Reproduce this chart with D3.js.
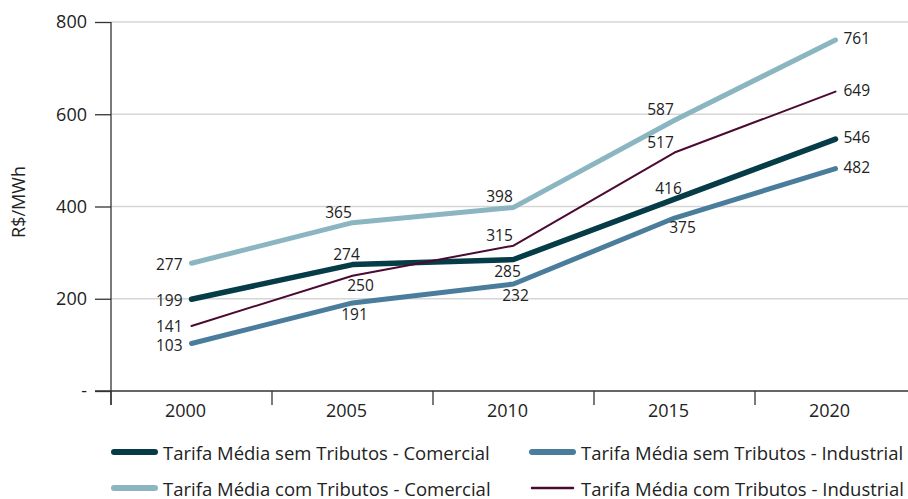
<!DOCTYPE html>
<html>
<head>
<meta charset="utf-8">
<script src="https://cdn.jsdelivr.net/npm/d3@7"></script>
<style>
	body { margin: 0; background: #fff; }
	svg { display: block; font-family: "Open Sans", sans-serif; }
</style>
</head>
<body>
<div id="chart"></div>
<script>
// data
var years = [2000, 2005, 2010, 2015, 2020];
var yTicks = [0, 200, 400, 600, 800];
var seriesNames = [
	"Tarifa Média sem Tributos - Comercial",
	"Tarifa Média sem Tributos - Industrial",
	"Tarifa Média com Tributos - Comercial",
	"Tarifa Média com Tributos - Industrial"
];
var semComercial = [199, 274, 285, 416, 546];
var semIndustrial = [103, 191, 232, 375, 482];
var comComercial = [277, 365, 398, 587, 761];
var comIndustrial = [141, 250, 315, 517, 649];

// styling per series
var colors = ["#063c47", "#4a7d9b", "#8ab5c1", "#4b0a32"];
var widths = [5.5, 5, 5, 2];
// where the value label sits at each point
var labelPos = [
	["left", "above", "belowLeft", "above", "right"],
	["leftLow", "below", "below", "belowRight", "right"],
	["left", "aboveLeft", "aboveLeft", "aboveLeft", "right"],
	["leftHigh", "belowRight", "aboveLeft", "aboveLeft", "right"]
];

var allSeries = [semComercial, semIndustrial, comComercial, comIndustrial];

var W = 908, H = 499;
var svg = d3.select("#chart").append("svg")
	.attr("width", W)
	.attr("height", H);

var x = d3.scaleBand().domain(years).range([111, 916]);
var y = d3.scaleLinear().domain([0, 800]).range([391, 22]);

// grid lines
svg.append("g")
	.selectAll("line")
	.data(yTicks.slice(1))
	.enter()
	.append("line")
		.attr("x1", 111)
		.attr("x2", W)
		.attr("y1", function(d) { return y(d); })
		.attr("y2", function(d) { return y(d); })
		.attr("stroke", "#d6d6d6")
		.attr("stroke-width", 1.3);

// y axis
var yAxis = svg.append("g")
	.attr("transform", "translate(111,0)")
	.call(d3.axisLeft(y).tickValues(yTicks).tickSize(16).tickPadding(8)
		.tickFormat(function(d) { return d == 0 ? "-" : d; }));
yAxis.select(".domain").remove();
yAxis.selectAll(".tick line").attr("stroke", "#333").attr("stroke-width", 1.3);
yAxis.selectAll("text").attr("font-size", 18).attr("fill", "#222").attr("font-family", "Open Sans");
svg.append("line")
	.attr("x1", 111).attr("x2", 111)
	.attr("y1", 22).attr("y2", 405)
	.attr("stroke", "#333").attr("stroke-width", 1.3);

// x axis
var xAxis = svg.append("g")
	.attr("transform", "translate(0,391)")
	.call(d3.axisBottom(x).tickSize(0).tickPadding(13));
xAxis.select(".domain").remove();
xAxis.selectAll("text").attr("font-size", 18).attr("fill", "#222").attr("font-family", "Open Sans").attr("dx", -6);
svg.append("line")
	.attr("x1", 95).attr("x2", W)
	.attr("y1", 391).attr("y2", 391)
	.attr("stroke", "#333").attr("stroke-width", 1.3);
svg.append("g")
	.selectAll("line")
	.data(years)
	.enter()
	.append("line")
		.attr("x1", function(d) { return x(d); })
		.attr("x2", function(d) { return x(d); })
		.attr("y1", 391)
		.attr("y2", 405)
		.attr("stroke", "#333")
		.attr("stroke-width", 1.3);

// y label
svg.append("text")
	.attr("transform", "translate(25,202) rotate(-90)")
	.attr("text-anchor", "middle")
	.attr("font-size", 18)
	.attr("fill", "#222")
	.text("R$/MWh");

// lines
var line = d3.line()
	.x(function(d, i) { return x(years[i]) + x.bandwidth() / 2; })
	.y(function(d) { return y(d); });

allSeries.forEach(function(values, s) {
	svg.append("path")
		.datum(values)
		.attr("fill", "none")
		.attr("stroke", colors[s])
		.attr("stroke-width", widths[s])
		.attr("stroke-linecap", "round")
		.attr("stroke-linejoin", "round")
		.attr("d", line);
});

// value labels
var offsets = {
	left: [-9, 1, "end"],
	leftLow: [-9, 2, "end"],
	leftHigh: [-9, 0, "end"],
	right: [8, -2, "start"],
	above: [-6, -11, "middle"],
	aboveLeft: [-14, -11, "middle"],
	below: [2, 11, "middle"],
	belowLeft: [-6, 11, "middle"],
	belowRight: [8, 9, "middle"]
};
allSeries.forEach(function(values, s) {
	svg.append("g")
		.selectAll("text")
		.data(values)
		.enter()
		.append("text")
			.attr("x", function(d, i) { return x(years[i]) + x.bandwidth() / 2 + offsets[labelPos[s][i]][0]; })
			.attr("y", function(d, i) { return y(d) + offsets[labelPos[s][i]][1]; })
			.attr("text-anchor", function(d, i) { return offsets[labelPos[s][i]][2]; })
			.attr("dominant-baseline", "central")
			.attr("font-size", 15.5)
			.attr("fill", "#222")
			.text(function(d) { return d; });
});

// legend
var legendX = [114, 532];
var legendY = [452, 488];
seriesNames.forEach(function(name, s) {
	var lx = legendX[s % 2], ly = legendY[Math.floor(s / 2)];
	var g = svg.append("g");
	g.append("line")
		.attr("x1", lx).attr("x2", lx + 41)
		.attr("y1", ly).attr("y2", ly)
		.attr("stroke", colors[s])
		.attr("stroke-width", s == 3 ? 2.5 : 6)
		.attr("stroke-linecap", "round");
	g.append("text")
		.attr("x", lx + 49)
		.attr("y", ly)
		.attr("dominant-baseline", "central")
		.attr("font-size", 18.5)
		.attr("fill", "#222")
		.text(name);
});
</script>
</body>
</html>
